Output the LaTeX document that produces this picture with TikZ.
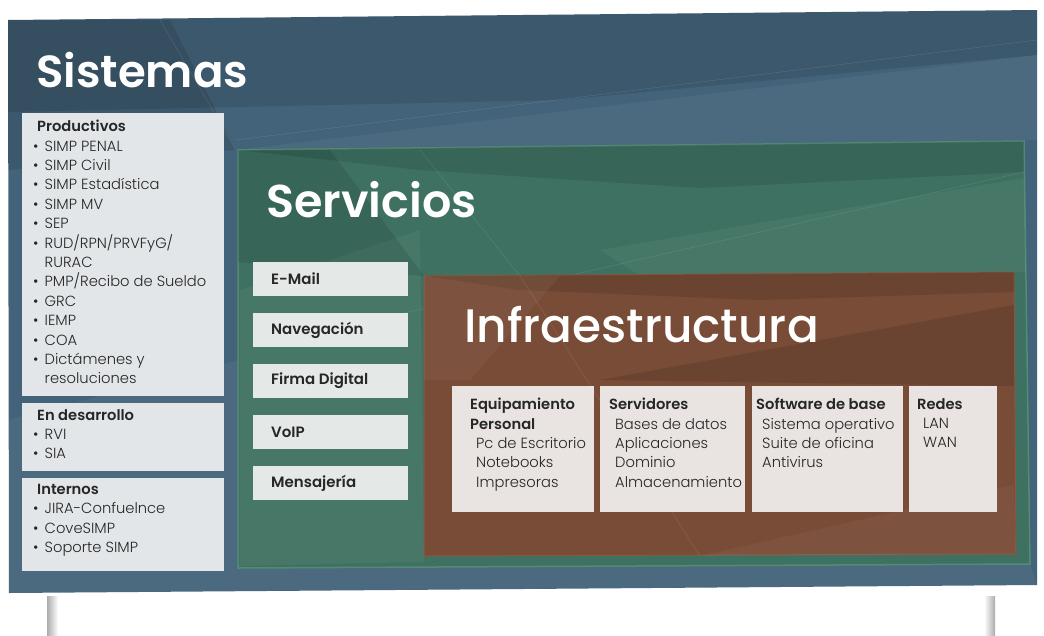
\documentclass[tikz,border=0pt]{standalone}
\usepackage{fontspec}
\setmainfont{Poppins Light}[BoldFont={Poppins SemiBold}]
\newfontfamily\headfont{Poppins SemiBold}
\newfontfamily\headmed{Poppins Medium}
\definecolor{panelblue}{HTML}{43637A}
\definecolor{panelgreen}{HTML}{3E7161}
\definecolor{panelgreenedge}{HTML}{528C73}
\definecolor{panelbrown}{HTML}{784C37}
\definecolor{panelbrownedge}{HTML}{8A5840}
\definecolor{cardcool}{HTML}{E3E6E8}
\definecolor{cardmint}{HTML}{E4E8E6}
\definecolor{cardwarm}{HTML}{E9E4E1}
\definecolor{inktext}{HTML}{262626}
\tikzset{
  card/.style={inner sep=0pt, outer sep=0pt, draw=none},
  svcbox/.style={card, fill=cardmint, minimum width=155pt, minimum height=34pt,
    anchor=north west},
  svclabel/.style={font=\headfont\fontsize{15}{17}\selectfont, text=inktext,
    anchor=west, inner sep=0pt},
  listtext/.style={font=\fontsize{14.7}{19.4}\selectfont, text=inktext, align=left,
    anchor=north west, inner sep=0pt},
  bigtitle/.style={text=white, anchor=west, inner sep=0pt},
  facet/.style={fill=white, fill opacity=0.045, draw=none},
  shadowfacet/.style={fill=black, fill opacity=0.10, draw=none},
  crease/.style={white, opacity=0.10, line width=0.6pt},
}
\newcommand{\bul}{\makebox[11.5pt][l]{\textbullet}}
\newcommand{\cont}{\hspace*{11.5pt}}
\begin{document}
\begin{tikzpicture}[x=1pt,y=-1pt]
\useasboundingbox (0,0) rectangle (1044,635);
\fill[white] (0,0) rectangle (1044,635);

% stand legs below the board
\shade[left color=gray!65, right color=white] (47,596) rectangle (58,635);
\shade[left color=white, right color=gray!65] (984,596) rectangle (995,635);

% ---------- Sistemas board ----------
\fill[panelblue] (8,20) -- (1037,10) -- (1037,585) -- (9,593) -- cycle;
\fill[shadowfacet] (8,20) -- (1037,10) -- (1037,55) -- (560,100) -- (8,112) -- cycle;
\fill[shadowfacet] (8,20) -- (170,20) -- (236,150) -- (8,170) -- cycle;
\fill[facet] (236,150) -- (1037,55) -- (1037,140) -- cycle;
\fill[facet] (8,420) -- (238,360) -- (238,593) -- (9,593) -- cycle;
\fill[facet] (238,568) -- (1030,563) -- (1037,585) -- (238,591) -- cycle;
\draw[crease] (236,140) -- (1037,40);
\draw[crease] (160,20) -- (236,150);

\node[bigtitle, font=\headfont\fontsize{45}{50}\selectfont] (tsis) at (36,70) {Sistemas};

\node[card, fill=cardcool, minimum width=202pt, minimum height=283pt, anchor=north west]
  (prod) at (22,113) {};
\node[card, fill=cardcool, minimum width=202pt, minimum height=68pt, anchor=north west]
  (desa) at (22,403) {};
\node[card, fill=cardcool, minimum width=202pt, minimum height=93pt, anchor=north west]
  (inte) at (22,478) {};

\node[listtext] (prodtxt) at ([xshift=11pt,yshift=-7pt]prod.north west) {%
  \hspace*{4pt}{\bfseries Productivos}\\
  \bul SIMP PENAL\\
  \bul SIMP Civil\\
  \bul SIMP Estadística\\
  \bul SIMP MV\\
  \bul SEP\\
  \bul RUD/RPN/PRVFyG/\\
  \cont RURAC\\
  \bul PMP/Recibo de Sueldo\\
  \bul GRC\\
  \bul IEMP\\
  \bul COA\\
  \bul Dictámenes y\\
  \cont resoluciones};
\node[listtext] (desatxt) at ([xshift=11pt,yshift=-6pt]desa.north west) {%
  \hspace*{4pt}{\bfseries En desarrollo}\\
  \bul RVI\\
  \bul SIA};
\node[listtext] (intetxt) at ([xshift=11pt,yshift=-6pt]inte.north west) {%
  \hspace*{4pt}{\bfseries Internos}\\
  \bul JIRA-Confuelnce\\
  \bul CoveSIMP\\
  \bul Soporte SIMP};

% ---------- Servicios board ----------
\fill[panelgreen, draw=panelgreenedge, line width=1.5pt]
  (238,150) -- (1024,141) -- (1030,564) -- (238,568) -- cycle;
\fill[shadowfacet] (238,150) -- (1024,141) -- (1024,172) -- (700,188) -- (420,170) -- cycle;
\fill[shadowfacet] (238,150) -- (330,150) -- (424,276) -- (238,262) -- cycle;
\fill[facet] (600,250) -- (1024,178) -- (1026,272) -- (640,276) -- cycle;
\fill[facet] (240,290) -- (420,230) -- (424,562) -- (240,566) -- cycle;
\draw[crease] (330,330) -- (1024,172);
\draw[crease] (420,150) -- (520,276);

\node[bigtitle, font=\headfont\fontsize{46}{50}\selectfont] (tser) at (266,200) {Servicios};

\node[svcbox] (mail) at (253,262) {};
\node[svcbox] (nave) at (253,313) {};
\node[svcbox] (firm) at (253,364) {};
\node[svcbox] (voip) at (253,415) {};
\node[svcbox] (mens) at (253,466) {};
\node[svclabel] at ([xshift=18pt]mail.west) {E-Mail};
\node[svclabel] at ([xshift=18pt]nave.west) {Navegación};
\node[svclabel] at ([xshift=18pt]firm.west) {Firma Digital};
\node[svclabel] at ([xshift=18pt]voip.west) {VoIP};
\node[svclabel] at ([xshift=18pt]mens.west) {Mensajería};

% ---------- Infraestructura board ----------
\fill[panelbrown, draw=panelbrownedge, line width=1pt]
  (424,276) -- (1014,272) -- (1016,554) -- (424,556) -- cycle;
\fill[shadowfacet] (424,276) -- (1014,272) -- (1014,292) -- (760,300) -- (520,290) -- cycle;
\fill[facet] (424,276) -- (560,276) -- (470,380) -- (424,380) -- cycle;
\fill[shadowfacet] (600,380) -- (1014,305) -- (1014,386) -- cycle;
\fill[facet] (700,556) -- (1014,485) -- (1016,554) -- cycle;
\draw[crease] (520,276) -- (700,556);

\node[bigtitle, font=\headmed\fontsize{47}{52}\selectfont] (tinf) at (464,325) {Infraestructura};

\node[card, fill=cardwarm, minimum width=142pt, minimum height=126pt, anchor=north west]
  (equi) at (452,386) {};
\node[card, fill=cardwarm, minimum width=145pt, minimum height=126pt, anchor=north west]
  (serv) at (600,386) {};
\node[card, fill=cardwarm, minimum width=151pt, minimum height=126pt, anchor=north west]
  (soft) at (752,386) {};
\node[card, fill=cardwarm, minimum width=88pt, minimum height=126pt, anchor=north west]
  (rede) at (909,386) {};

\node[listtext] (equitxt) at ([xshift=18pt,yshift=-12pt]equi.north west) {%
  {\bfseries Equipamiento}\\
  {\bfseries Personal}\\
  \hspace*{6pt}Pc de Escritorio\\
  \hspace*{6pt}Notebooks\\
  \hspace*{6pt}Impresoras};
\node[listtext] (servtxt) at ([xshift=9pt,yshift=-12pt]serv.north west) {%
  {\bfseries Servidores}\\
  \hspace*{6pt}Bases de datos\\
  \hspace*{6pt}Aplicaciones\\
  \hspace*{6pt}Dominio\\
  \hspace*{6pt}Almacenamiento};
\node[listtext] (softtxt) at ([xshift=4pt,yshift=-12pt]soft.north west) {%
  {\bfseries Software de base}\\
  \hspace*{6pt}Sistema operativo\\
  \hspace*{6pt}Suite de oficina\\
  \hspace*{6pt}Antivirus};
\node[listtext] (redetxt) at ([xshift=8pt,yshift=-12pt]rede.north west) {%
  {\bfseries Redes}\\
  \hspace*{6pt}LAN\\
  \hspace*{6pt}WAN};
\end{tikzpicture}
\end{document}
